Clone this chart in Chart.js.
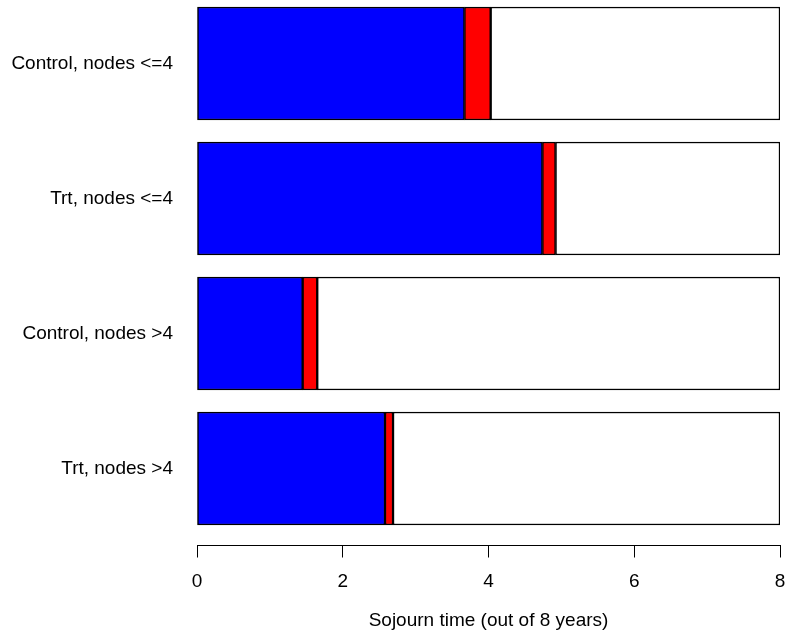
<!DOCTYPE html>
<html>
<head>
<meta charset="utf-8">
<script src="https://cdn.jsdelivr.net/npm/chart.js@4/dist/chart.umd.min.js"></script>
<style>
  html, body { margin: 0; padding: 0; background: #ffffff; }
  #wrap { position: relative; width: 786px; height: 639px; }
</style>
</head>
<body>
<div id="wrap"><canvas id="chart" width="786" height="639"></canvas></div>
<script>
// Groups, top to bottom
const groups = ['Control, nodes <=4', 'Trt, nodes <=4', 'Control, nodes >4', 'Trt, nodes >4'];
// Mean years spent in the first state (blue)
const firstState = [3.67, 4.74, 1.45, 2.58];
// Mean years spent in the second state (red)
const secondState = [0.36, 0.18, 0.20, 0.11];
// Follow-up horizon in years
const horizon = 8;
const xTicks = [0, 2, 4, 6, 8];

const remaining = groups.map((g, i) => horizon - firstState[i] - secondState[i]);
const asPoints = arr => arr.map((v, i) => ({ x: v, y: i }));

Chart.defaults.font.family = '"Liberation Sans", Arial, Helvetica, sans-serif';
Chart.defaults.font.size = 19;
Chart.defaults.color = '#000000';

const barStyle = {
  borderColor: '#000000',
  borderWidth: 1.5,
  borderSkipped: false,
  barThickness: 113
};

new Chart(document.getElementById('chart'), {
  type: 'bar',
  data: {
    datasets: [
      Object.assign({ label: 'State 1', data: asPoints(firstState), backgroundColor: '#0000ff' }, barStyle),
      Object.assign({ label: 'State 2', data: asPoints(secondState), backgroundColor: '#ff0000' }, barStyle),
      Object.assign({ label: 'Remaining', data: asPoints(remaining), backgroundColor: '#ffffff' }, barStyle)
    ]
  },
  options: {
    indexAxis: 'y',
    responsive: false,
    animation: false,
    devicePixelRatio: 1,
    layout: { padding: { top: 0, right: 6, bottom: 0, left: 0 } },
    plugins: {
      legend: { display: false },
      tooltip: { enabled: false }
    },
    scales: {
      x: {
        type: 'linear',
        position: 'bottom',
        min: 0,
        max: horizon,
        stacked: true,
        afterFit: s => { s.height = 93.5; s.paddingLeft = 0; s.paddingRight = 0; },
        afterBuildTicks: s => { s.ticks = xTicks.map(v => ({ value: v })); },
        ticks: { padding: 13, color: '#000000', font: { size: 19 } },
        grid: { drawOnChartArea: false, drawTicks: true, tickLength: 12, color: '#000000', lineWidth: 1 },
        border: { display: true, color: '#000000', width: 1 },
        title: {
          display: true,
          text: 'Sojourn time (out of 8 years)',
          color: '#000000',
          font: { size: 19 },
          padding: { top: 0, bottom: 7 }
        }
      },
      y: {
        type: 'linear',
        reverse: true,
        offset: false,
        min: -0.4704,
        max: 3.5704,
        stacked: true,
        afterFit: s => { s.width = 197; s.paddingTop = 0; s.paddingBottom = 0; },
        afterBuildTicks: s => { s.ticks = groups.map((g, i) => ({ value: i })); },
        ticks: {
          padding: 24,
          color: '#000000',
          font: { size: 19 },
          callback: v => groups[v]
        },
        grid: { display: false, drawTicks: false, offset: false },
        border: { display: false }
      }
    }
  }
});
</script>
</body>
</html>
